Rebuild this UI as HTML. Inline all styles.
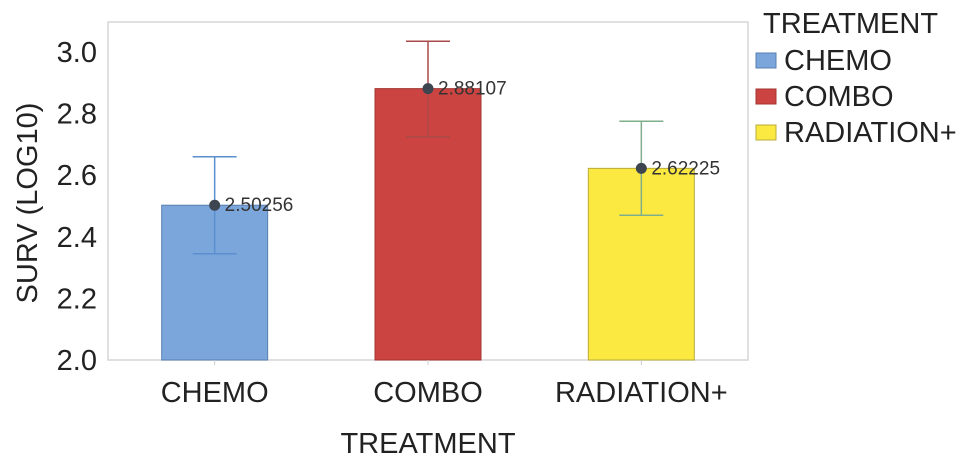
<!DOCTYPE html>
<html><head><meta charset="utf-8"><style>
body{margin:0;background:#fff;}
svg{display:block;font-family:"Liberation Sans",Arial,sans-serif;}
</style></head><body>
<svg id="chart" width="969" height="466"></svg>
<script>
const categories=["CHEMO","COMBO","RADIATION+"];
const means=[2.50256,2.88107,2.62225];
const errUpper=[2.66,3.035,2.775];
const errLower=[2.345,2.725,2.47];
const yTicks=[2.0,2.2,2.4,2.6,2.8,3.0];
const colors=["#7ba6dc","#cc4441","#fbe941"];
const strokes=["#5a7fb0","#a23532","#b8ab3a"];
const errColors=["#5b8fcf","#a84a48","#7fae8a"];
const NS="http://www.w3.org/2000/svg";
const svg=document.getElementById('chart');
const L=108,R=748,T=22,B=360,ymin=2.0,ymax=3.0974;
const y=v=>B-(v-ymin)/(ymax-ymin)*(B-T);
const bw=(R-L)/categories.length;
const x=i=>L+bw*(i+0.5);
function mk(t,a,txt){const e=document.createElementNS(NS,t);for(const k in a)e.setAttribute(k,a[k]);if(txt!==undefined)e.textContent=txt;svg.appendChild(e);return e;}
let f=mk('rect',{x:L,y:T,width:R-L,height:B-T,fill:'none',stroke:'#d6d6d6','stroke-width':1.5});


yTicks.forEach(v=>{
 let t=mk('text',{x:97,y:y(v)+10,'text-anchor':'end','font-size':29,fill:'#222'},v.toFixed(1));
 
 
});
let yt=mk('text',{x:0,y:0,transform:'translate(37,203) rotate(-90)','text-anchor':'middle','font-size':29,fill:'#222'},'SURV (LOG10)');


categories.forEach((c,i)=>{
 const cx=x(i),w=106;
 let b=mk('rect',{x:cx-w/2,y:y(means[i]),width:w,height:B-y(means[i]),fill:colors[i],stroke:strokes[i],'stroke-width':1});
 
 
 const ec=errColors[i];
 let e1=mk('line',{x1:cx,x2:cx,y1:y(errUpper[i]),y2:y(errLower[i]),stroke:ec,'stroke-width':1.5});
 
 
 [errUpper[i],errLower[i]].forEach(v=>{
  let cp=mk('line',{x1:cx-22,x2:cx+22,y1:y(v),y2:y(v),stroke:ec,'stroke-width':1.5});
  
  
 });
 let d=mk('circle',{cx:cx,cy:y(means[i]),r:5.5,fill:'#3d4550'});
 
 
 let lb=mk('text',{x:cx+10,y:y(means[i])+6,'font-size':19,fill:'#333'},String(means[i]));
 
 
 let tk=mk('line',{x1:cx,x2:cx,y1:B,y2:B+5,stroke:'#ccc'});
 
 
 let xl=mk('text',{x:cx,y:402,'text-anchor':'middle','font-size':29,fill:'#222'},c);
 
 
});
let xt=mk('text',{x:428,y:453,'text-anchor':'middle','font-size':29,fill:'#222'},'TREATMENT');


let lt=mk('text',{x:763,y:33,'font-size':29,fill:'#222'},'TREATMENT');


categories.forEach((c,i)=>{
 const ly=60+i*36;
 let s=mk('rect',{x:756,y:ly-7,width:20,height:15,fill:colors[i],stroke:strokes[i],'stroke-width':1});
 
 
 let t=mk('text',{x:784,y:ly+10,'font-size':29,fill:'#222'},c);
 
 
});
</script>
</body></html>
